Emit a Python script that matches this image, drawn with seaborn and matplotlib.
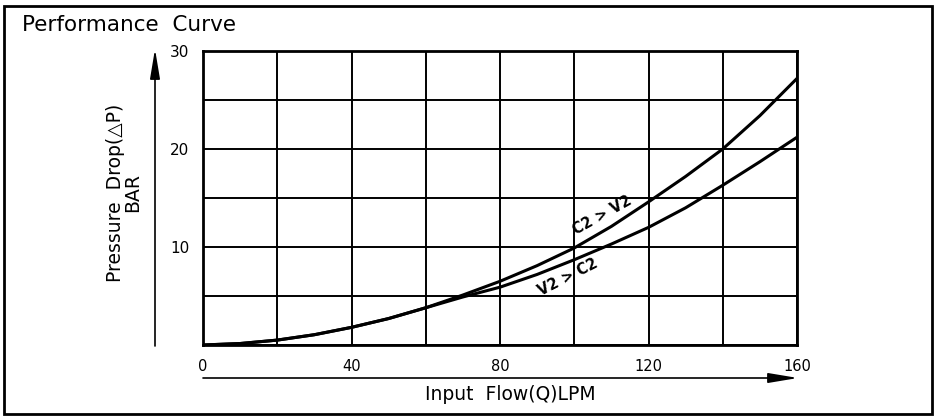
import matplotlib
matplotlib.use("Agg")
import matplotlib.pyplot as plt
import numpy as np
import pandas as pd
import seaborn as sns
from matplotlib.patches import Rectangle

# values
flow = [0, 10, 20, 30, 40, 50, 60, 70, 80, 90, 100, 110, 120, 130, 140, 150, 160]
c2_v2 = [0, 0.15, 0.5, 1.05, 1.8, 2.7, 3.8, 5.1, 6.5, 8.1, 9.9, 12.1, 14.6, 17.2, 20.0, 23.4, 27.2]
v2_c2 = [0, 0.15, 0.5, 1.05, 1.8, 2.7, 3.8, 4.9, 5.9, 7.2, 8.7, 10.3, 12.0, 14.0, 16.3, 18.7, 21.2]
x_labels = ['0', '', '40', '', '80', '', '120', '', '160']
y_labels = ['', '', '10', '', '20', '', '30']


def build_frame():
    """Long-form table of both curves."""
    df = pd.DataFrame({'Q': flow * 2,
                       'dP': c2_v2 + v2_c2,
                       'curve': ['C2 > V2'] * len(flow) + ['V2 > C2'] * len(flow)})
    return df


def plot_curve(df):
    """Draws the performance curve in the drawing-sheet style."""
    W, H = 938, 417
    fig = plt.figure(figsize=(W / 100, H / 100), dpi=100)
    ax = fig.add_axes([203 / W, 1 - 345 / H, 594 / W, 294 / H])

    sns.lineplot(data=df, x='Q', y='dP', hue='curve', palette=['black', 'black'],
                 linewidth=2.2, legend=False, ax=ax)

    ax.set_xlim(0, 160)
    ax.set_ylim(0, 30)
    ax.set_xticks(np.arange(0, 161, 20))
    ax.set_xticklabels(x_labels, fontsize=10.5, color='black')
    ax.set_yticks(np.arange(0, 31, 5))
    ax.set_yticklabels(y_labels, fontsize=11, color='black')
    ax.tick_params(length=0, pad=10)
    ax.grid(True, color='black', linewidth=1.4)
    for s in ax.spines.values():
        s.set_color('black')
        s.set_linewidth(2)
    ax.set_xlabel('')
    ax.set_ylabel('')

    ax.text(107.5, 13.2, 'C2 > V2', rotation=29, ha='center', va='center',
            fontsize=10.5, fontweight='bold', color='black')
    ax.text(98.4, 6.9, 'V2 > C2', rotation=27, ha='center', va='center',
            fontsize=10.5, fontweight='bold', color='black')

    # sheet furniture
    fig.patches.append(Rectangle((4 / W, 1 - 414 / H), 928 / W, 408 / H,
                                 transform=fig.transFigure, fill=False,
                                 edgecolor='black', linewidth=2))
    fig.text(22 / W, 1 - 25 / H, 'Performance  Curve', fontsize=15.5,
             ha='left', va='center', color='black')
    fig.text(510 / W, 1 - 395 / H, 'Input  Flow(Q)LPM', fontsize=13.5,
             ha='center', va='center', color='black')
    fig.text(124 / W, 1 - 193 / H, 'Pressure  Drop(△P)\nBAR', fontsize=13.5,
             ha='center', va='center', rotation=90, linespacing=0.9,
             color='black')
    ax.annotate('', xy=(155 / W, 1 - 49 / H), xytext=(155 / W, 1 - 346 / H),
                xycoords='figure fraction', textcoords='figure fraction',
                arrowprops=dict(arrowstyle='-|>,head_length=1.8,head_width=0.3',
                                color='black', lw=1.2, shrinkA=0, shrinkB=0))
    ax.annotate('', xy=(798 / W, 1 - 378 / H), xytext=(203 / W, 1 - 378 / H),
                xycoords='figure fraction', textcoords='figure fraction',
                arrowprops=dict(arrowstyle='-|>,head_length=1.8,head_width=0.3',
                                color='black', lw=1.2, shrinkA=0, shrinkB=0))

    fig.savefig('out.png', dpi=100)


def main():
    sns.set_style('white')
    plt.rcParams['font.family'] = ['DejaVu Sans']
    df = build_frame()
    plot_curve(df)


if __name__ == '__main__':
    main()
